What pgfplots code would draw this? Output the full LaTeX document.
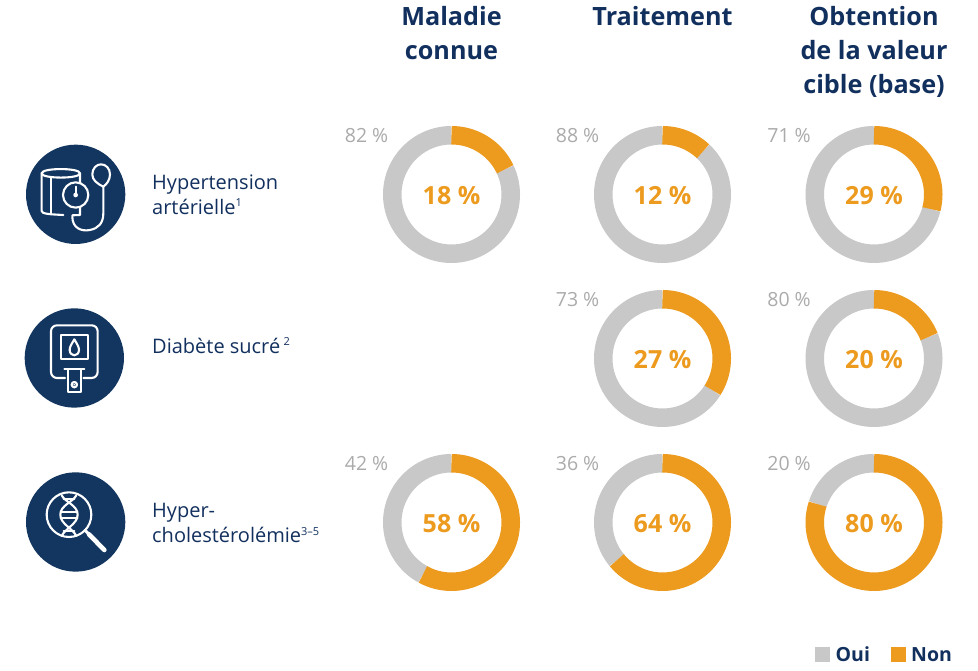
\documentclass[border=0pt]{standalone}
\usepackage{fontspec}
\setmainfont{Open Sans}
\usepackage{pgfplots}
\usepackage{pgfplotstable}
\pgfplotsset{compat=1.18}
\usepgfplotslibrary{polar}
\definecolor{navy}{HTML}{12305E}
\definecolor{disc}{HTML}{133660}
\definecolor{non}{HTML}{EC9B1F}
\definecolor{oui}{HTML}{C8C8C8}
\definecolor{lab}{HTML}{ABABAB}
\pgfplotstableread[row sep=\\]{
pct angle r\\
0 90 59.25\\1 86.4 59.25\\2 82.8 59.25\\3 79.2 59.25\\4 75.6 59.25\\5 72 59.25\\6 68.4 59.25\\7 64.8 59.25\\8 61.2 59.25\\9 57.6 59.25\\
10 54 59.25\\11 50.4 59.25\\12 46.8 59.25\\13 43.2 59.25\\14 39.6 59.25\\15 36 59.25\\16 32.4 59.25\\17 28.8 59.25\\18 25.2 59.25\\19 21.6 59.25\\
20 18 59.25\\21 14.4 59.25\\22 10.8 59.25\\23 7.2 59.25\\24 3.6 59.25\\25 0 59.25\\26 -3.6 59.25\\27 -7.2 59.25\\28 -10.8 59.25\\29 -14.4 59.25\\
30 -18 59.25\\31 -21.6 59.25\\32 -25.2 59.25\\33 -28.8 59.25\\34 -32.4 59.25\\35 -36 59.25\\36 -39.6 59.25\\37 -43.2 59.25\\38 -46.8 59.25\\39 -50.4 59.25\\
40 -54 59.25\\41 -57.6 59.25\\42 -61.2 59.25\\43 -64.8 59.25\\44 -68.4 59.25\\45 -72 59.25\\46 -75.6 59.25\\47 -79.2 59.25\\48 -82.8 59.25\\49 -86.4 59.25\\
50 -90 59.25\\51 -93.6 59.25\\52 -97.2 59.25\\53 -100.8 59.25\\54 -104.4 59.25\\55 -108 59.25\\56 -111.6 59.25\\57 -115.2 59.25\\58 -118.8 59.25\\59 -122.4 59.25\\
60 -126 59.25\\61 -129.6 59.25\\62 -133.2 59.25\\63 -136.8 59.25\\64 -140.4 59.25\\65 -144 59.25\\66 -147.6 59.25\\67 -151.2 59.25\\68 -154.8 59.25\\69 -158.4 59.25\\
70 -162 59.25\\71 -165.6 59.25\\72 -169.2 59.25\\73 -172.8 59.25\\74 -176.4 59.25\\75 -180 59.25\\76 -183.6 59.25\\77 -187.2 59.25\\78 -190.8 59.25\\79 -194.4 59.25\\
80 -198 59.25\\81 -201.6 59.25\\82 -205.2 59.25\\83 -208.8 59.25\\84 -212.4 59.25\\85 -216 59.25\\86 -219.6 59.25\\87 -223.2 59.25\\88 -226.8 59.25\\89 -230.4 59.25\\
90 -234 59.25\\91 -237.6 59.25\\92 -241.2 59.25\\93 -244.8 59.25\\94 -248.4 59.25\\95 -252 59.25\\96 -255.6 59.25\\97 -259.2 59.25\\98 -262.8 59.25\\99 -266.4 59.25\\
100 -270 59.25\\
}\ring
% #1 cx, #2 cy (upwards), #3 Non label, #4 Oui label, #5 Non share as drawn in the reference
\newcommand\donut[5]{%
\begin{polaraxis}[at={(#1pt,#2pt)},anchor=center,hide axis,scale only axis,
  width=137pt,height=137pt,ymin=0,ymax=68.5,clip=false]
\addplot[no markers,oui,line width=18.5pt,line cap=butt,line join=round,
  restrict expr to domain={\thisrow{pct}}{#5:100}] table[x=angle,y=r]{\ring};
\addplot[no markers,non,line width=18.5pt,line cap=butt,line join=round,
  restrict expr to domain={\thisrow{pct}}{0:#5}] table[x=angle,y=r]{\ring};
\end{polaraxis}
\node[anchor=base,inner sep=0pt,text=non,font=\fontsize{25}{28}\selectfont\bfseries] at (#1pt,{#2pt-10.5pt}) {#3 \%};
\node[anchor=base east,inner sep=0pt,text=lab,font=\fontsize{19.5}{24}\selectfont] at ({#1pt-63pt},{#2pt+52.2pt}) {#4 \%};
}
\newcommand\rowl[3]{\node[anchor=base west,inner sep=0pt,text=navy,font=\fontsize{20}{24}\selectfont] at (#1pt,{671pt-#2pt}) {#3};}
\newcommand\coltitle[3]{\node[anchor=base,inner sep=0pt,text=navy,font=\fontsize{25.2}{28}\selectfont\bfseries] at (#1pt,{671pt-#2pt}) {#3};}
\newcommand\sups[1]{{\fontsize{11}{11}\selectfont\raisebox{7.5pt}{#1}}}
\begin{document}
\begin{tikzpicture}
\useasboundingbox (0,0) rectangle (978pt,671pt);
\fill[white] (0,0) rectangle (978pt,671pt);
% titles
\coltitle{451.5}{25.5}{Maladie}
\coltitle{451.5}{59.5}{connue}
\coltitle{662.5}{25.5}{Traitement}
\coltitle{874}{25.5}{Obtention}
\coltitle{874}{59.5}{de la valeur}
\coltitle{874}{93.5}{cible (base)}
% row labels
\rowl{152}{189.5}{Hypertension}
\rowl{152}{214.5}{artérielle\sups{1}}
\rowl{152}{353.5}{Diabète sucré\,\sups{2}}
\rowl{152}{518}{Hyper-}
\rowl{152}{543}{cholestérolémie\sups{3–5}}
% donuts
\donut{451.5}{476.5}{18}{82}{18}
\donut{662.5}{476.5}{12}{88}{12}
\donut{874}{476.5}{29}{71}{29}
\donut{662.5}{312.5}{27}{73}{34}
\donut{874}{312.5}{20}{80}{19}
\donut{451.5}{148.5}{58}{42}{58}
\donut{662.5}{148.5}{64}{36}{64}
\donut{874}{148.5}{80}{20}{80}
% icon 1
\begin{scope}[shift={(15pt,536pt)},x=0.3333pt,y=-0.3333pt,line width=2.1pt,line cap=round,line join=round]
\fill[disc] (182,178) circle (149);
\draw[white] (195,145) -- (195,115) .. controls (195,98) and (80,98) .. (80,115) -- (80,228) .. controls (80,236) and (100,238) .. (145,240);
\draw[white] (80,115) .. controls (80,132) and (195,132) .. (195,115);
\draw[white] (108,126) -- (108,238);
\draw[white] (195,216) -- (195,240) -- (172,241);
\draw[white] (182,180) circle (38);
\fill[white] (182,180) circle (7);
\draw[white] (182,155) -- (182,180);
\draw[white] (172,245) .. controls (172,280) and (200,290) .. (225,285) .. controls (250,280) and (265,265) .. (265,235) -- (265,155);
\draw[white] (265,155) .. controls (245,145) and (232,135) .. (232,118) .. controls (232,100) and (245,88) .. (258,88) .. controls (272,88) and (285,100) .. (285,118) .. controls (285,135) and (275,148) .. (265,155);
\end{scope}
% icon 2
\begin{scope}[shift={(15pt,373pt)},x=0.3333pt,y=-0.3333pt,line width=2.1pt,line cap=round,line join=round]
\fill[disc] (178,180) circle (149);
\draw[white,rounded corners=6pt] (150,240) -- (108,240) -- (108,82) -- (248,82) -- (248,240) -- (205,240);
\draw[white] (137,110) rectangle (220,182);
\draw[white] (178,124) .. controls (170,138) and (164,146) .. (164,156) .. controls (164,166) and (171,172) .. (178,172) .. controls (185,172) and (192,166) .. (192,156) .. controls (192,146) and (186,138) .. (178,124) -- cycle;
\draw[white] (148,213) -- (208,213);
\draw[white] (160,213) -- (160,283) -- (198,283) -- (198,213);
\draw[white] (178,260) circle (8);
\fill[white] (178,260) circle (3);
\end{scope}
% icon 3
\begin{scope}[shift={(15pt,209pt)},x=0.3333pt,y=-0.3333pt,line width=2.1pt,line cap=round,line join=round]
\fill[disc] (182,180) circle (149);
\draw[white] (162,158) circle (67);
\draw[white,line width=3pt] (210,205) -- (222,217);
\draw[white,line width=4.6pt] (222,217) -- (268,264);
\draw[white] (140,100) .. controls (150,120) and (188,130) .. (188,158) .. controls (188,186) and (150,200) .. (140,222);
\draw[white] (184,100) .. controls (174,120) and (136,130) .. (136,158) .. controls (136,186) and (174,200) .. (184,222);
\draw[white] (146,112) -- (178,112);
\draw[white] (137,150) -- (187,150);
\draw[white] (137,167) -- (187,167);
\draw[white] (146,208) -- (178,208);
\end{scope}
% legend
\fill[oui] (815pt,9pt) rectangle (830pt,24pt);
\node[anchor=base west,inner sep=0pt,text=navy,font=\fontsize{19.5}{22}\selectfont\bfseries] at (835.5pt,9pt) {Oui};
\fill[non] (891pt,9pt) rectangle (906pt,24pt);
\node[anchor=base west,inner sep=0pt,text=navy,font=\fontsize{19.5}{22}\selectfont\bfseries] at (911pt,9pt) {Non};
\end{tikzpicture}
\end{document}
